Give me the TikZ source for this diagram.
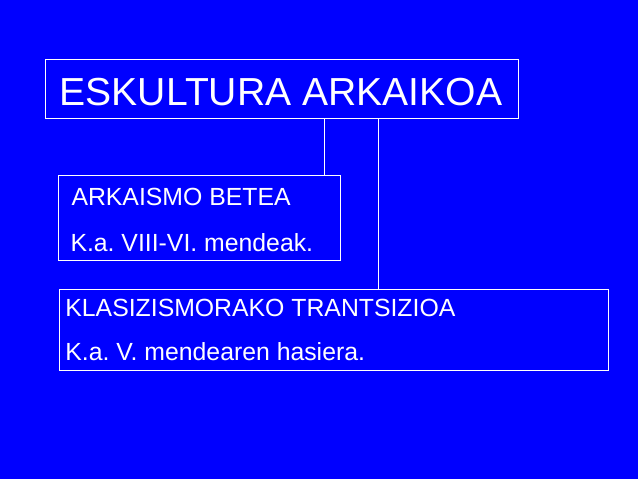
\documentclass[tikz,border=0pt]{standalone}
\usepackage{fontspec}
\setmainfont{Liberation Sans}
\usepackage{xcolor}
\definecolor{slideblue}{HTML}{0000FF}
\usepackage{tikz}
\usetikzlibrary{positioning}
\frenchspacing

\begin{document}
\begin{tikzpicture}[
        x=1pt, y=-1pt,
        box/.style={rectangle, draw=white, line width=1.2pt, inner sep=0pt, anchor=north west},
        txt/.style={text=white, inner sep=0pt, anchor=base west},
        big/.style={txt, font=\fontsize{39.1}{41}\selectfont},
        small/.style={txt, font=\fontsize{24.8}{26}\selectfont},
        link/.style={draw=white, line width=1.2pt}
    ]
        \fill[slideblue] (0,0) rectangle (638,479);
        \useasboundingbox (0,0) rectangle (638,479);

        \node[box, minimum width=473pt, minimum height=59pt] (title) at (44.7,59) {};
        \node[box, minimum width=282pt, minimum height=85pt] (archaic) at (58,175) {};
        \node[box, minimum width=549pt, minimum height=81pt] (transition) at (59,289) {};

        \node[big] (titletext) at (59.5,105) {ESKULTURA ARKAIKOA};
        \node[small] (archaic1) at (71.3,205.7) {ARKAISMO BETEA};
        \node[small] (archaic2) at (70.3,251.3) {K.a. VIII-VI. mendeak.};
        \node[small] (transition1) at (65.2,316.7) {KLASIZISMORAKO TRANTSIZIOA};
        \node[small] (transition2) at (65.2,360.5) {K.a. V. mendearen hasiera.};

        \coordinate (stemA) at (324.3,0);
        \coordinate (stemB) at (378.3,0);
        \draw[link] (title.south -| stemA) -- (archaic.north -| stemA);
        \draw[link] (title.south -| stemB) -- (transition.north -| stemB);
    \end{tikzpicture}
\end{document}
